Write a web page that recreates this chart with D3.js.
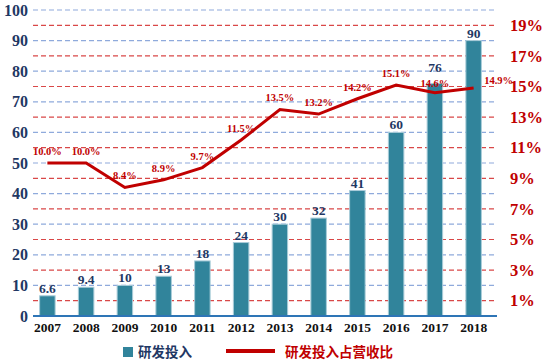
<!DOCTYPE html>
<html>
<head>
<meta charset="utf-8">
<script src="https://cdn.jsdelivr.net/npm/d3@7"></script>
<style>
  body { margin: 0; background: #fff; }
  svg { display: block; }
</style>
</head>
<body>
<script>
var years   = ['2007', '2008', '2009', '2010', '2011', '2012', '2013', '2014', '2015', '2016', '2017', '2018'];
var rdSpend = [6.6, 9.4, 10, 13, 18, 24, 30, 32, 41, 60, 76, 90];
var rdRatio = [10.0, 10.0, 8.4, 8.9, 9.7, 11.5, 13.5, 13.2, 14.2, 15.1, 14.6, 14.9];
var leftTicks  = [0, 10, 20, 30, 40, 50, 60, 70, 80, 90, 100];
var rightTicks = [1, 3, 5, 7, 9, 11, 13, 15, 17, 19];

var WIDTH  = 546;
var HEIGHT = 362;
var SERIF  = '"Liberation Serif", "Times New Roman", serif';
var CJK    = '"Noto Sans CJK SC", "Noto Sans", sans-serif';
var TEAL   = '#31849B';
var RED    = '#C00000';
var NAVY   = '#1F3864';

var svg = d3.select('body')
            .append('svg')
            .attr('width', WIDTH)
            .attr('height', HEIGHT);

var x = d3.scaleBand()
          .domain(years)
          .range([28, 493])
          .paddingInner(0.6)
          .paddingOuter(0.3);

var yLeft = d3.scaleLinear()
              .domain([0, 100])
              .range([316, 10]);

var yRight = d3.scaleLinear()
               .domain([0, 20])
               .range([316, 10]);

var gridX1 = 33, gridX2 = 497;

// blue grid lines for left ticks
svg.append('g')
   .selectAll('line')
   .data(leftTicks.filter(function(d) { return d > 0; }))
   .enter()
 .append('line')
   .attr('x1', gridX1).attr('x2', gridX2)
   .attr('y1', yLeft).attr('y2', yLeft)
   .attr('stroke', '#8FAADC')
   .attr('stroke-width', 1.2)
   .attr('stroke-dasharray', '5,3');

// red grid lines for right ticks
svg.append('g')
   .selectAll('line')
   .data(rightTicks)
   .enter()
 .append('line')
   .attr('x1', gridX1).attr('x2', gridX2)
   .attr('y1', yRight).attr('y2', yRight)
   .attr('stroke', '#D94848')
   .attr('stroke-width', 1.2)
   .attr('stroke-dasharray', '5,3');

// bars
svg.append('g')
   .selectAll('rect')
   .data(rdSpend)
   .enter()
 .append('rect')
   .attr('x', function(d, i) { return x(years[i]); })
   .attr('width', x.bandwidth())
   .attr('y', function(d) { return yLeft(d); })
   .attr('height', function(d) { return yLeft(0) - yLeft(d); })
   .attr('fill', TEAL)
   .attr('stroke', '#A9CCD9')
   .attr('stroke-width', 1);

// bar labels (2017 label sits higher, above the line label)
svg.append('g')
   .selectAll('text')
   .data(rdSpend)
   .enter()
 .append('text')
   .attr('x', function(d, i) { return x(years[i]) + x.bandwidth() / 2; })
   .attr('y', function(d, i) { return yLeft(d) - (i === 10 ? 11 : 3); })
   .attr('text-anchor', 'middle')
   .attr('font-family', SERIF)
   .attr('font-weight', 'bold')
   .attr('font-size', 13.5)
   .attr('fill', NAVY)
   .text(function(d) { return d; });

// baseline
svg.append('line')
   .attr('x1', gridX1).attr('x2', gridX2)
   .attr('y1', yLeft(0)).attr('y2', yLeft(0))
   .attr('stroke', '#2E75B6')
   .attr('stroke-width', 2);

// ratio line
var line = d3.line()
             .x(function(d, i) { return x(years[i]) + x.bandwidth() / 2; })
             .y(function(d) { return yRight(d); });

svg.append('path')
   .datum(rdRatio)
   .attr('d', line)
   .attr('fill', 'none')
   .attr('stroke', RED)
   .attr('stroke-width', 3);

// ratio labels
svg.append('g')
   .selectAll('text')
   .data(rdRatio)
   .enter()
 .append('text')
   .attr('x', function(d, i) {
       var cx = x(years[i]) + x.bandwidth() / 2;
       return i === rdRatio.length - 1 ? cx + 25 : cx;
   })
   .attr('y', function(d, i) {
       if (i === rdRatio.length - 1) return yRight(d) - 4;
       if (i === 10) return yRight(d) - 6;
       return yRight(d) - 8;
   })
   .attr('text-anchor', 'middle')
   .attr('font-family', SERIF)
   .attr('font-weight', 'bold')
   .attr('font-size', 10.5)
   .attr('fill', RED)
   .text(function(d) { return d.toFixed(1) + '%'; });

// left axis
var leftAxis = svg.append('g')
                  .attr('transform', 'translate(' + gridX1 + ',0)')
                  .call(d3.axisLeft(yLeft).tickValues(leftTicks).tickSize(0).tickPadding(5));
leftAxis.select('.domain').remove();
leftAxis.selectAll('text')
        .attr('font-family', SERIF)
        .attr('font-weight', 'bold')
        .attr('font-size', 16)
        .attr('fill', NAVY);

// right axis
var rightAxis = svg.append('g')
                   .attr('transform', 'translate(' + gridX2 + ',0)')
                   .call(d3.axisRight(yRight).tickValues(rightTicks).tickSize(0).tickPadding(13)
                           .tickFormat(function(d) { return d + '%'; }));
rightAxis.select('.domain').remove();
rightAxis.selectAll('text')
         .attr('font-family', SERIF)
         .attr('font-weight', 'bold')
         .attr('font-size', 16.5)
         .attr('fill', RED);

// bottom axis
var bottomAxis = svg.append('g')
                    .attr('transform', 'translate(0,' + yLeft(0) + ')')
                    .call(d3.axisBottom(x).tickSize(0).tickPadding(6));
bottomAxis.select('.domain').remove();
bottomAxis.selectAll('text')
          .attr('font-family', SERIF)
          .attr('font-weight', 'bold')
          .attr('font-size', 13.5)
          .attr('fill', '#111');

// legend
var legend = svg.append('g');
legend.append('rect')
      .attr('x', 123).attr('y', 347)
      .attr('width', 10).attr('height', 10)
      .attr('fill', TEAL);
legend.append('text')
      .attr('x', 138).attr('y', 357)
      .attr('font-family', CJK)
      .attr('font-weight', 'bold')
      .attr('font-size', 13.5)
      .attr('fill', NAVY)
      .text('研发投入');
legend.append('line')
      .attr('x1', 226).attr('x2', 275)
      .attr('y1', 351).attr('y2', 351)
      .attr('stroke', RED)
      .attr('stroke-width', 4);
legend.append('text')
      .attr('x', 285).attr('y', 357)
      .attr('font-family', CJK)
      .attr('font-weight', 'bold')
      .attr('font-size', 13.5)
      .attr('fill', RED)
      .text('研发投入占营收比');
</script>
</body>
</html>
